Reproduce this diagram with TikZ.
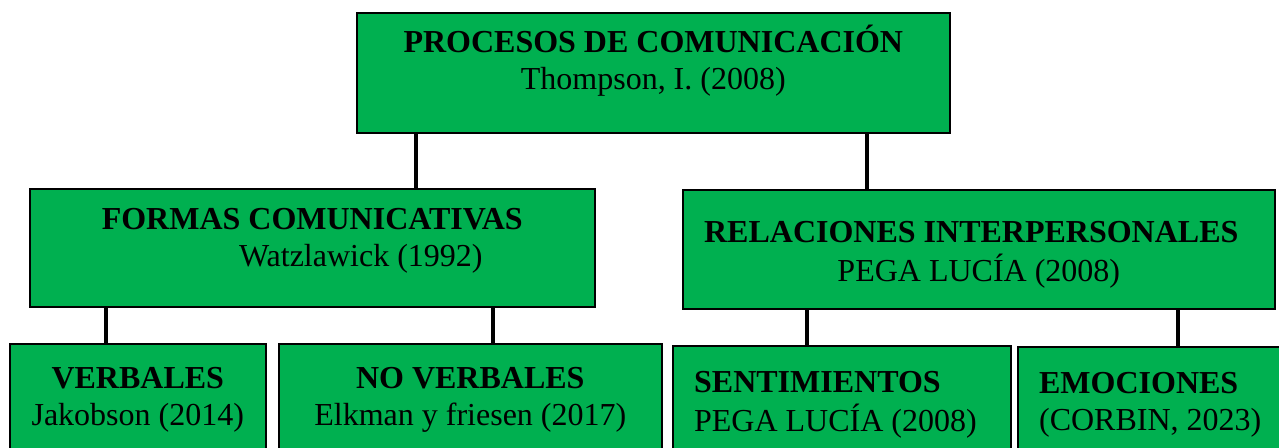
\documentclass[tikz,border=0pt]{standalone}
\usepackage{fontspec}
\setmainfont{Liberation Serif}
\usepackage{tikz}
\usetikzlibrary{calc,positioning}

\definecolor{boxgreen}{RGB}{0,176,80}

\newcommand{\entrytext}[2]{\begin{tabular}[t]{@{}c@{}}\textbf{#1}\\#2\end{tabular}}
\newcommand{\entryleft}[3]{\begin{tabular}[t]{@{\hspace{16pt}}p{#1}@{}}\textbf{#2}\\#3\end{tabular}}

\tikzset{
    box/.style={draw=black, fill=boxgreen, line width=1.2pt, anchor=north west, inner sep=0pt,
        font=\fontsize{24}{27.75}\selectfont},
    link/.style={line width=2.5pt}
}

\begin{document}
\begin{tikzpicture}[x=0.75pt, y=-0.75pt]
        \useasboundingbox (0, 0) rectangle (1279, 447);
        \clip (0, 0) rectangle (1279, 447);

        \node[box, minimum width=444.75pt, text height=30pt, text depth=60pt] (top) at (356, 12)
            {\entrytext{PROCESOS DE COMUNICACIÓN}{Thompson, I. (2008)}};

        \node[box, minimum width=423.75pt, text height=30.75pt, text depth=57.75pt] (formas) at (29, 188)
            {\entrytext{FORMAS COMUNICATIVAS}{\hspace*{72.75pt}Watzlawick (1992)}};
        \node[box, minimum width=444pt, text height=39.75pt, text depth=49.5pt] (relaciones) at (682, 189)
            {\entrytext{RELACIONES INTERPERSONALES\hspace*{11.25pt}}{PEGA LUCÍA (2008)}};

        % bottom row, cut by the page edge
        \node[box, minimum width=192pt, text height=33.75pt, text depth=54pt] (verbales) at (9, 343)
            {\entrytext{VERBALES}{Jakobson (2014)}};
        \node[box, minimum width=287.25pt, text height=33.75pt, text depth=54pt] (noverbales) at (278, 343)
            {\entrytext{NO VERBALES}{Elkman y friesen (2017)}};
        \node[box, text height=35.25pt, text depth=51pt] (sentimientos) at (672, 345)
            {\entryleft{237.5pt}{SENTIMIENTOS}{PEGA LUCÍA (2008)}};
        \node[box, text height=35.25pt, text depth=50.25pt] (emociones) at (1017, 346)
            {\entryleft{196pt}{EMOCIONES}{(CORBIN, 2023)}};

        \draw[link] (top.south -| 416,0) -- (formas.north -| 416,0);
        \draw[link] (top.south -| 867,0) -- (relaciones.north -| 867,0);
        \draw[link] (formas.south -| 106,0) -- (verbales.north -| 106,0);
        \draw[link] (formas.south -| 493,0) -- (noverbales.north -| 493,0);
        \draw[link] (relaciones.south -| 807,0) -- (sentimientos.north -| 807,0);
        \draw[link] (relaciones.south -| 1178,0) -- (emociones.north -| 1178,0);
\end{tikzpicture}
\end{document}
